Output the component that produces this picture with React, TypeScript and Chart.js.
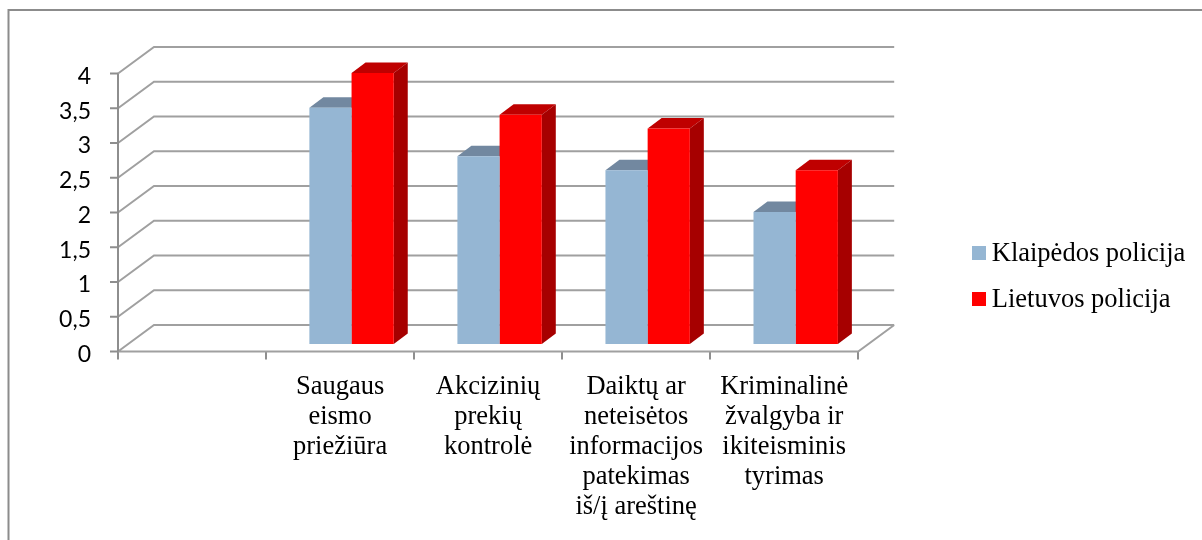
import React, { useEffect, useRef } from "react";
import { Chart, registerables } from "chart.js";

Chart.register(...registerables);

const categories: (string | string[])[] = [
  "",
  ["Saugaus", "eismo", "priežiūra"],
  ["Akcizinių", "prekių", "kontrolė"],
  ["Daiktų ar", "neteisėtos", "informacijos", "patekimas", "iš/į areštinę"],
  ["Kriminalinė", "žvalgyba ir", "ikiteisminis", "tyrimas"],
];
const klaipedaValues = [null, 3.4, 2.7, 2.5, 1.9];
const lietuvaValues = [null, 3.9, 3.3, 3.1, 2.5];
const seriesNames = ["Klaipėdos policija", "Lietuvos policija"];
const seriesColors = ["#95B6D3", "#FF0000"];
const topColors = ["#7288A0", "#BF0000"];
const sideColors = ["#6F889E", "#A60000"];

const GRID = "#A0A0A0";
const WALL_DX = 36;
const WALL_DY = -26.5;
const BAR_SHIFT_X = 11.5;
const BAR_SHIFT_Y = -7.5;
const BAR_DX = 14;
const BAR_DY = -10.5;

const scene = {
  id: "scene",
  beforeDatasetsDraw(chart: any) {
    const { ctx, scales } = chart;
    const x = scales.x;
    const y = scales.y;
    ctx.save();
    ctx.strokeStyle = "#8C8C8C";
    ctx.lineWidth = 2;
    ctx.strokeRect(8.5, 10, 1300, 800);
    ctx.strokeStyle = GRID;
    ctx.beginPath();
    for (const v of y.ticks) {
      const py = y.getPixelForValue(v.value);
      ctx.moveTo(x.left, py);
      ctx.lineTo(x.left + WALL_DX, py + WALL_DY);
      ctx.lineTo(x.right + WALL_DX, py + WALL_DY);
    }
    const base = y.getPixelForValue(0);
    ctx.moveTo(x.left, base);
    ctx.lineTo(x.right, base);
    ctx.lineTo(x.right + WALL_DX, base + WALL_DY);
    ctx.stroke();
    ctx.restore();

    ctx.save();
    ctx.translate(BAR_SHIFT_X, BAR_SHIFT_Y);
    [1, 0].forEach((di) => {
      chart.getDatasetMeta(di).data.forEach((bar: any, i: number) => {
        if (chart.data.datasets[di].data[i] == null) return;
        const left = bar.x - bar.width / 2;
        const right = bar.x + bar.width / 2;
        ctx.fillStyle = topColors[di];
        ctx.beginPath();
        ctx.moveTo(left, bar.y);
        ctx.lineTo(left + BAR_DX, bar.y + BAR_DY);
        ctx.lineTo(right + BAR_DX, bar.y + BAR_DY);
        ctx.lineTo(right, bar.y);
        ctx.closePath();
        ctx.fill();
        ctx.fillStyle = sideColors[di];
        ctx.beginPath();
        ctx.moveTo(right, bar.y);
        ctx.lineTo(right + BAR_DX, bar.y + BAR_DY);
        ctx.lineTo(right + BAR_DX, bar.base + BAR_DY);
        ctx.lineTo(right, bar.base);
        ctx.closePath();
        ctx.fill();
      });
    });
  },
  afterDatasetsDraw(chart: any) {
    chart.ctx.restore();
  },
  afterLayout(chart: any) {
    const l = chart.legend;
    const w = l.width;
    const h = l.height;
    l.left = 952.5;
    l.right = 952.5 + w;
    l.top = 221.5;
    l.bottom = 221.5 + h;
  },
  afterDraw(chart: any) {
    const { ctx, scales } = chart;
    const x = scales.x;
    const y = scales.y;
    ctx.save();
    seriesColors.forEach((c, i) => {
      ctx.fillStyle = c;
      ctx.fillRect(972, 246 + i * 46, 14, 14);
    });
    ctx.strokeStyle = "#8E8E8E";
    ctx.lineWidth = 2;
    ctx.beginPath();
    ctx.moveTo(x.left, y.getPixelForValue(0));
    ctx.lineTo(x.left, y.getPixelForValue(4));
    for (const v of y.ticks) {
      const py = y.getPixelForValue(v.value);
      ctx.moveTo(x.left - 8, py);
      ctx.lineTo(x.left, py);
    }
    ctx.stroke();
    ctx.restore();
  },
};

export default function App() {
  const ref = useRef<HTMLCanvasElement>(null);
  useEffect(() => {
    document.body.style.margin = "0";
    const chart = new Chart(ref.current as HTMLCanvasElement, {
      type: "bar",
      data: {
        labels: categories as any,
        datasets: [
          { label: seriesNames[0], data: klaipedaValues as any, backgroundColor: seriesColors[0], clip: false as any },
          { label: seriesNames[1], data: lietuvaValues as any, backgroundColor: seriesColors[1], clip: false as any },
        ],
      },
      options: {
        responsive: false,
        animation: false,
        layout: { padding: { top: 73.5, right: 101, left: 0, bottom: 0 } },
        datasets: { bar: { categoryPercentage: 0.57, barPercentage: 1 } },
        plugins: {
          tooltip: { enabled: false },
          title: { display: false },
          legend: {
            position: "right",
            align: "start",
            labels: {
              color: "#000",
              font: { family: "'Liberation Serif'", size: 26.5 },
              boxWidth: 6.5,
              boxHeight: 14,
              padding: 19.5,
              generateLabels: () =>
                seriesNames.map((n, i) => ({
                  text: n,
                  datasetIndex: i,
                  fillStyle: "rgba(0,0,0,0)",
                  strokeStyle: "rgba(0,0,0,0)",
                  lineWidth: 0,
                })),
            },
          },
        },
        scales: {
          x: {
            afterFit: (s: any) => {
              s.height = 188.5;
            },
            grid: { display: true, drawOnChartArea: false, drawTicks: true, tickLength: 8, color: "#8E8E8E", lineWidth: 2 },
            border: { display: false },
            ticks: {
              color: "#000",
              padding: 12.5,
              maxRotation: 0,
              autoSkip: false,
              font: { family: "'Liberation Serif'", size: 26.5, lineHeight: 1.136 },
            },
          },
          y: {
            min: 0,
            max: 4,
            afterFit: (s: any) => {
              s.width = 118;
            },
            grid: { display: false },
            border: { display: false },
            ticks: {
              stepSize: 0.5,
              color: "#000",
              padding: 19,
              labelOffset: 3,
              font: { family: "Lato", size: 23 },
              callback: (v: any) => String(v).replace(".", ","),
            },
          },
        },
      },
      plugins: [scene],
    });
    return () => chart.destroy();
  }, []);
  return <canvas ref={ref} width={1202} height={540} style={{ display: "block" }} />;
}
